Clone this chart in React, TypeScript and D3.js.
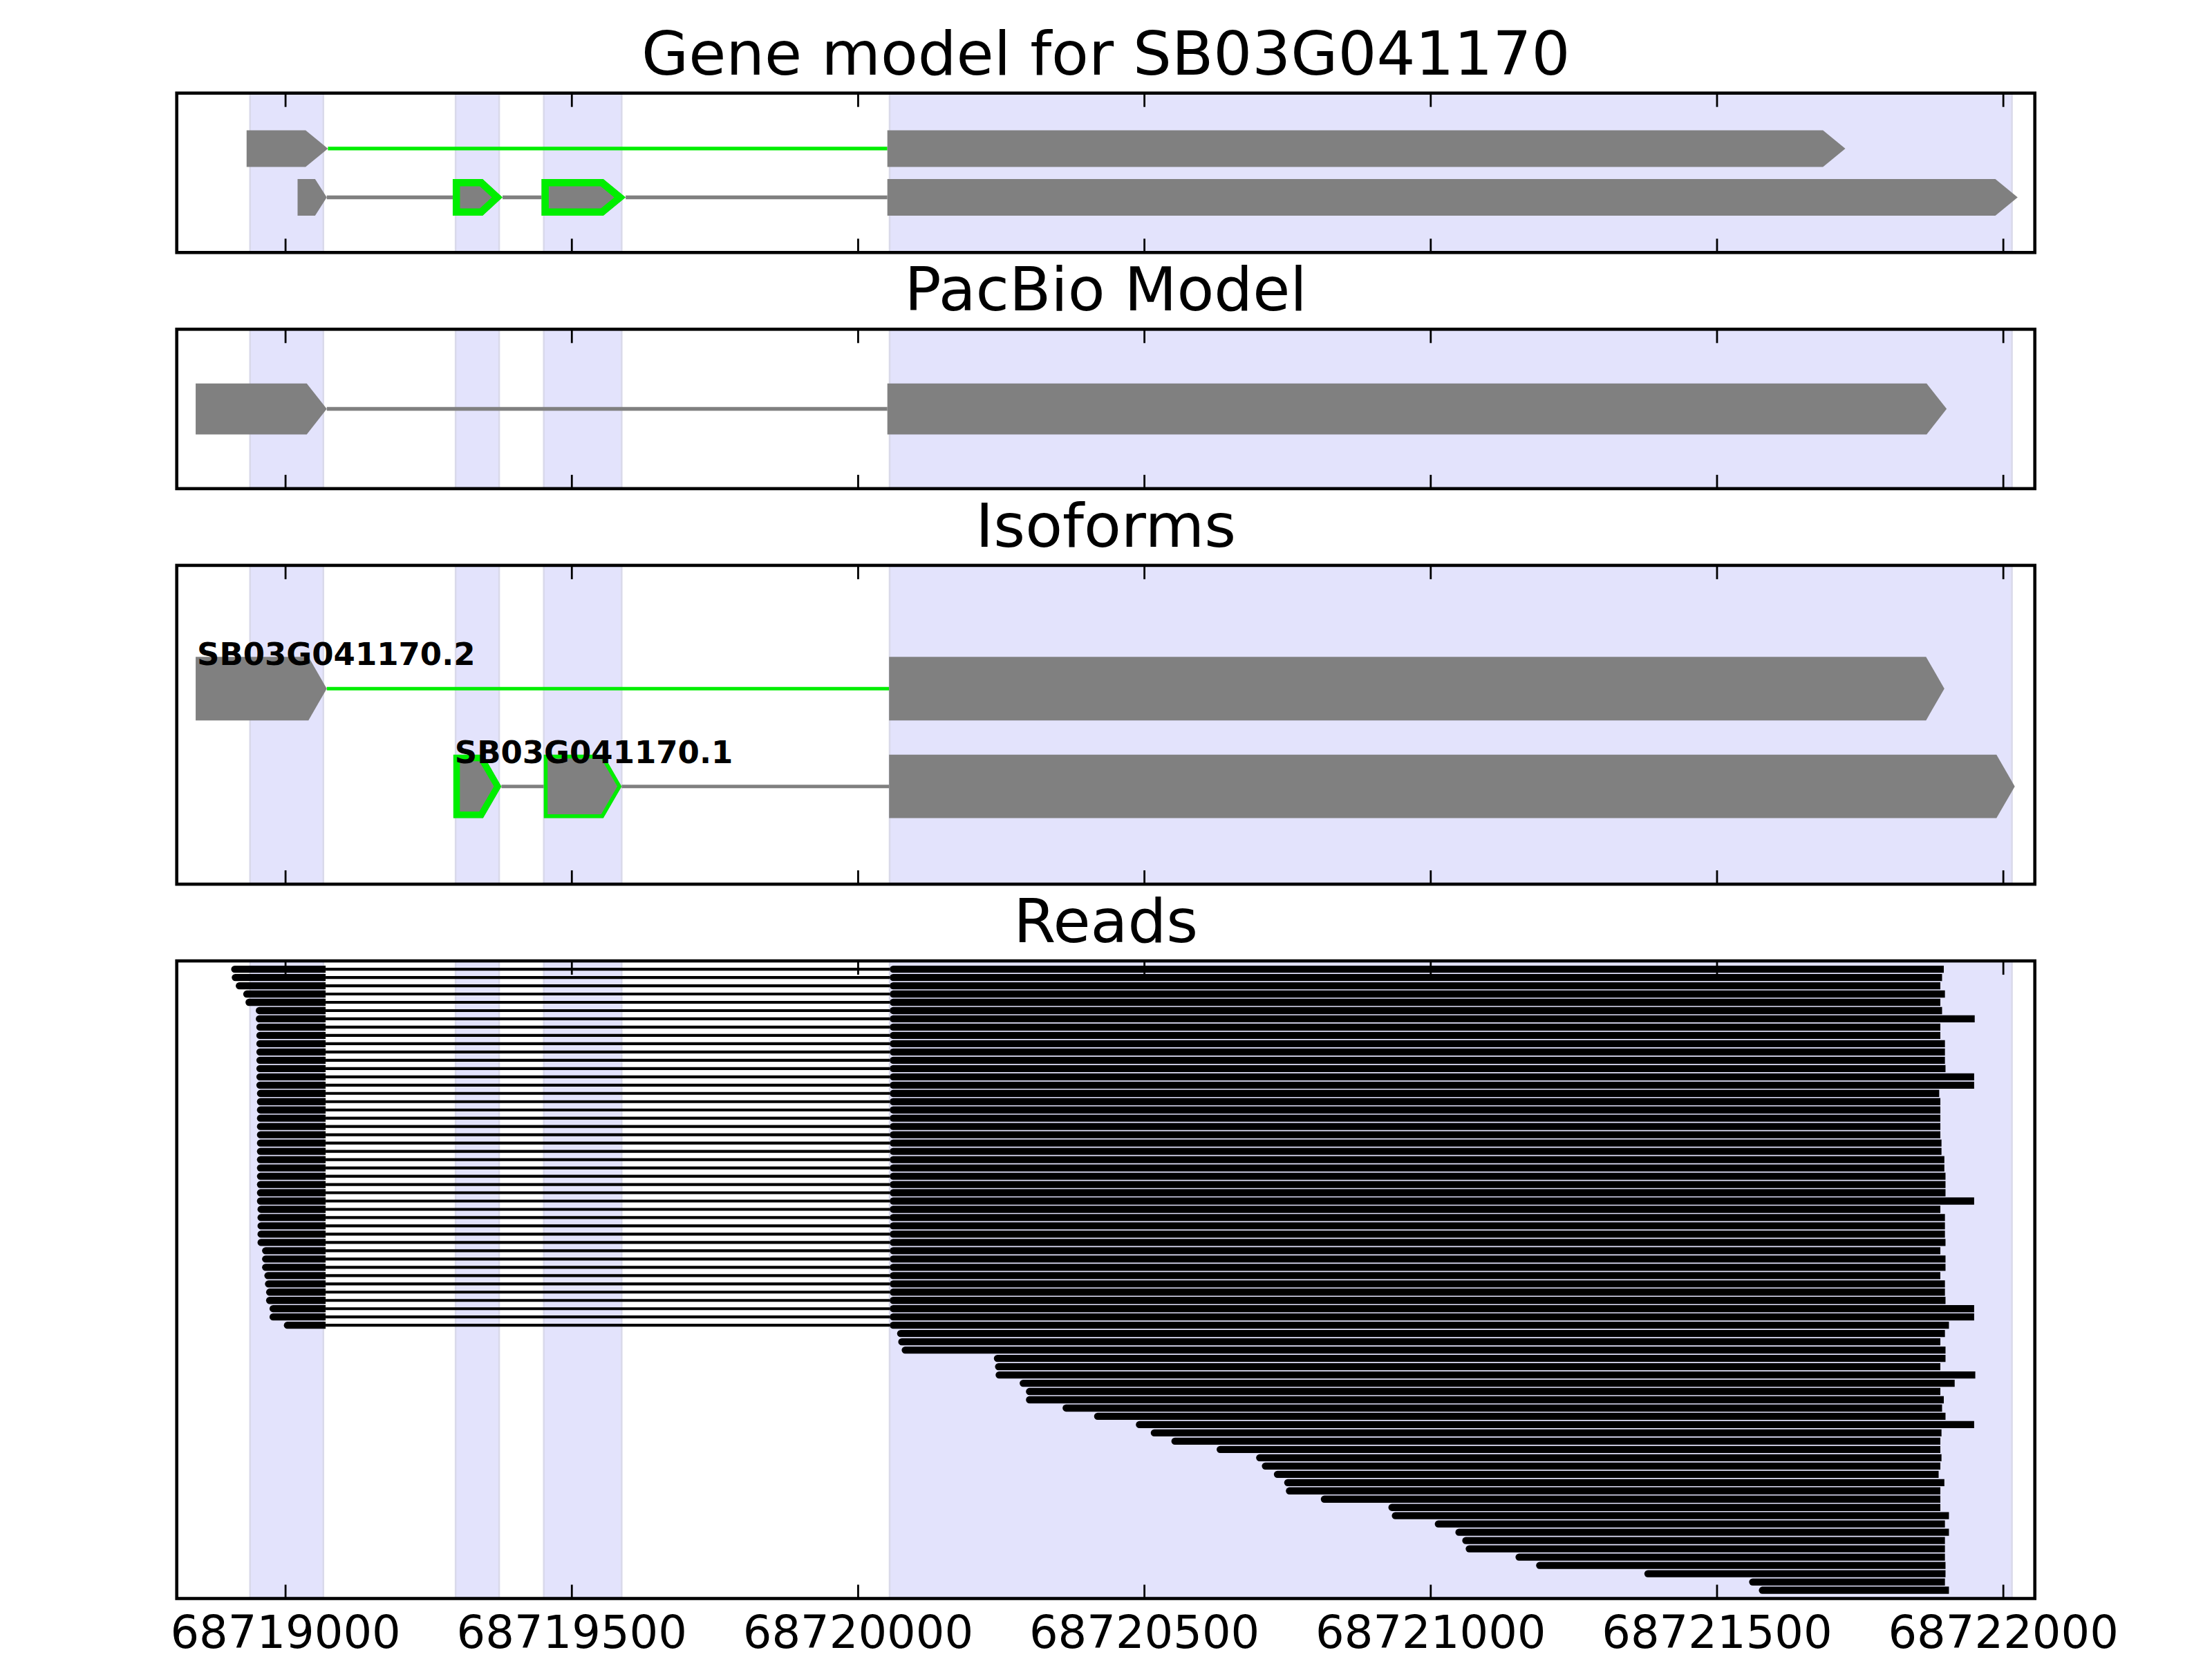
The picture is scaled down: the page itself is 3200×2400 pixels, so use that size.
import React from 'react';
import * as d3 from 'd3';

const W = 3200;
const H = 2400;

// ---------- data ----------
const panelTitles = ['Gene model for SB03G041170', 'PacBio Model', 'Isoforms', 'Reads'];
const xTicks = [68719000, 68719500, 68720000, 68720500, 68721000, 68721500, 68722000];
const xDomain = [68718810, 68722055];

// shaded exon regions
const bandStarts = [68718938, 68719297, 68719451, 68720055];
const bandEnds = [68719066, 68719373, 68719587, 68722015];

// gene model (two transcripts)
const gene2Exons = [[68718932, 68719074], [68720051, 68721724]];
const gene1Exons = [[68719021, 68719072], [68719292, 68719379], [68719447, 68719594], [68720051, 68722025]];
const gene1Outline = [0, 10.5, 10.5, 0];

// PacBio model
const pacbioExons = [[68718843, 68719072], [68720051, 68721901]];

// isoforms
const isoNames = ['SB03G041170.2', 'SB03G041170.1'];
const iso2Exons = [[68718843, 68719072], [68720054, 68721897]];
const iso1Exons = [[68719293, 68719377], [68719451, 68719587], [68720054, 68722020]];
const iso1Outline = [9.5, 5.5, 0];

// reads
const firstExonEnd = 68719070;
const mainExonStart = 68720055;
const readStarts = [
  68718905, 68718906, 68718913, 68718926, 68718930, 68718948, 68718948,
  68718949, 68718949, 68718949, 68718949, 68718949, 68718949, 68718949, 68718949,
  68718950, 68718950, 68718950, 68718950, 68718950, 68718950, 68718950,
  68718950, 68718950, 68718950, 68718950, 68718950, 68718950, 68718950,
  68718951, 68718951, 68718951, 68718951, 68718951,
  68718959, 68718959, 68718959, 68718963, 68718964, 68718966, 68718966,
  68718972, 68718972, 68718997,
  68720068, 68720070, 68720076, 68720237, 68720239, 68720240, 68720282, 68720293,
  68720293, 68720357, 68720412, 68720485, 68720511, 68720547, 68720626, 68720695,
  68720705, 68720726, 68720744, 68720747, 68720808, 68720926, 68720932, 68721007,
  68721043, 68721055, 68721061, 68721148, 68721184, 68721373, 68721556, 68721573,
];
const readEnds = [
  68721896, 68721893, 68721890, 68721898, 68721890, 68721893, 68721950, 68721890,
  68721890, 68721898, 68721898, 68721898, 68721899, 68721949, 68721949, 68721888,
  68721890, 68721890, 68721890, 68721890, 68721890, 68721892, 68721892, 68721897,
  68721897, 68721899, 68721899, 68721899, 68721949, 68721890, 68721898, 68721898,
  68721898, 68721899, 68721890, 68721899, 68721899, 68721890, 68721898, 68721898,
  68721899, 68721949, 68721949, 68721905, 68721898, 68721890, 68721899, 68721899,
  68721890, 68721951, 68721915, 68721890, 68721896, 68721893, 68721899, 68721949,
  68721892, 68721890, 68721890, 68721892, 68721890, 68721887, 68721897, 68721890,
  68721890, 68721890, 68721905, 68721898, 68721905, 68721898, 68721898, 68721898,
  68721899, 68721899, 68721898, 68721905,
];

// ---------- layout ----------
const LEFT = 255.7;
const RIGHT = 2943.7;
const TOP0 = 134.7;
const UNIT = 230.6;
const GAP = 111;
const ratios = [1, 1, 2, 4];
const panels: { top: number; bottom: number }[] = [];
{
  let t = TOP0;
  ratios.forEach((r) => {
    panels.push({ top: t, bottom: t + r * UNIT });
    t += r * UNIT + GAP;
  });
}

const GRAY = '#808080';
const GREEN = '#00ee00';
const LAV = '#e3e3fc';
const FONT = 'DejaVu Sans, Bitstream Vera Sans, sans-serif';

const x = d3.scaleLinear().domain(xDomain).range([LEFT, RIGHT]);

function arrowD(s: number, e: number, yc: number, h: number, headBp: number) {
  const hb = Math.min(headBp, 0.4 * (e - s));
  const x0 = x(s);
  const x1 = x(e);
  const xh = x(e - hb);
  const y0 = yc - h / 2;
  const y1 = yc + h / 2;
  return `M${x0},${y0}L${xh},${y0}L${x1},${yc}L${xh},${y1}L${x0},${y1}Z`;
}

let clipCounter = 0;

function Transcript({
  exons, yc, h, headBp, intronColor, intronW, outlines,
}: {
  exons: number[][]; yc: number; h: number; headBp: number; intronColor: string; intronW: number; outlines?: number[];
}) {
  const items: React.ReactNode[] = [];
  for (let i = 0; i < exons.length - 1; i++) {
    items.push(
      <line key={`in${i}`} x1={x(exons[i][1])} x2={x(exons[i + 1][0])} y1={yc} y2={yc}
        stroke={intronColor} strokeWidth={intronW} />
    );
  }
  exons.forEach(([s, e], i) => {
    const d = arrowD(s, e, yc, h, headBp);
    const t = outlines ? outlines[i] : 0;
    if (t > 0) {
      const id = `clipx${clipCounter++}`;
      items.push(
        <g key={`ex${i}`}>
          <clipPath id={id}><path d={d} /></clipPath>
          <path d={d} fill={GRAY} stroke={GREEN} strokeWidth={2 * t} clipPath={`url(#${id})`} />
        </g>
      );
    } else {
      items.push(<path key={`ex${i}`} d={d} fill={GRAY} />);
    }
  });
  return <g>{items}</g>;
}

function Bands({ top, bottom }: { top: number; bottom: number }) {
  return (
    <g>
      {bandStarts.map((s, i) => (
        <rect key={i} x={x(s)} y={top} width={x(bandEnds[i]) - x(s)} height={bottom - top}
          fill={LAV} stroke="#d9d9ea" strokeWidth={2.5} />
      ))}
    </g>
  );
}

function Frame({ top, bottom, labels }: { top: number; bottom: number; labels?: boolean }) {
  return (
    <g>
      {xTicks.map((t) => (
        <g key={t}>
          <line x1={x(t)} x2={x(t)} y1={top} y2={top + 20} stroke="#000" strokeWidth={2.8} />
          <line x1={x(t)} x2={x(t)} y1={bottom} y2={bottom - 20} stroke="#000" strokeWidth={2.8} />
          {labels && (
            <text x={x(t)} y={bottom + 71} textAnchor="middle" fontSize={65.5} fontFamily={FONT} fill="#000">
              {t}
            </text>
          )}
        </g>
      ))}
      <rect x={LEFT} y={top} width={RIGHT - LEFT} height={bottom - top} fill="none" stroke="#000" strokeWidth={4.6} />
    </g>
  );
}

function Title({ text, top }: { text: string; top: number }) {
  return (
    <text x={(LEFT + RIGHT) / 2} y={top - 27} textAnchor="middle" fontSize={88} fontFamily={FONT} fill="#000">
      {text}
    </text>
  );
}

function readBlock(s: number, e: number, yc: number, h: number) {
  const x0 = x(s);
  const x1 = x(e);
  const r = h / 2;
  const y0 = yc - r;
  const y1 = yc + r;
  return `M${x0 + r},${y0}L${x1},${y0}L${x1},${y1}L${x0 + r},${y1}A${r},${r} 0 0 1 ${x0 + r},${y0}Z`;
}

export default function App() {
  clipCounter = 0;
  const [p1, p2, p3, p4] = panels;
  const yGene = d3.scaleLinear().domain([3.137, -0.13]).range([p1.top, p1.bottom]);
  const yPac = d3.scaleLinear().domain([2, 0]).range([p2.top, p2.bottom]);
  const yIso = d3.scaleLinear().domain([3.26, 0]).range([p3.top, p3.bottom]);
  const yReads = d3.scaleLinear().domain([-1, readStarts.length]).range([p4.top, p4.bottom]);

  const geneH = yGene(0) - yGene(0.75);
  const pacH = yPac(0) - yPac(0.64);
  const isoH = yIso(0) - yIso(0.65);
  const readH = 10.3;

  return (
    <svg width={W} height={H} viewBox={`0 0 ${W} ${H}`} xmlns="http://www.w3.org/2000/svg"
      style={{ position: 'absolute', left: 0, top: 0, display: 'block', background: '#fff' }}>
      <rect x={0} y={0} width={W} height={H} fill="#fff" />

      {/* Panel 1: gene model */}
      <Title text={panelTitles[0]} top={p1.top} />
      <Bands top={p1.top} bottom={p1.bottom} />
      <Transcript exons={gene2Exons} yc={yGene(2)} h={geneH} headBp={39} intronColor={GREEN} intronW={5.3} />
      <Transcript exons={gene1Exons} yc={yGene(1)} h={geneH} headBp={39} intronColor={GRAY} intronW={5.5}
        outlines={gene1Outline} />
      <Frame top={p1.top} bottom={p1.bottom} />

      {/* Panel 2: PacBio model */}
      <Title text={panelTitles[1]} top={p2.top} />
      <Bands top={p2.top} bottom={p2.bottom} />
      <Transcript exons={pacbioExons} yc={yPac(1)} h={pacH} headBp={35} intronColor={GRAY} intronW={5.5} />
      <Frame top={p2.top} bottom={p2.bottom} />

      {/* Panel 3: isoforms */}
      <Title text={panelTitles[2]} top={p3.top} />
      <Bands top={p3.top} bottom={p3.bottom} />
      <Transcript exons={iso2Exons} yc={yIso(2)} h={isoH} headBp={32} intronColor={GREEN} intronW={5} />
      <Transcript exons={iso1Exons} yc={yIso(1)} h={isoH} headBp={32} intronColor={GRAY} intronW={5}
        outlines={iso1Outline} />
      <text x={x(iso2Exons[0][0]) + 2} y={yIso(2.24)} fontSize={45} fontWeight="bold" fontFamily={FONT} fill="#000">
        {isoNames[0]}
      </text>
      <text x={x(iso1Exons[0][0]) + 2} y={yIso(1.24)} fontSize={45} fontWeight="bold" fontFamily={FONT} fill="#000">
        {isoNames[1]}
      </text>
      <Frame top={p3.top} bottom={p3.bottom} />

      {/* Panel 4: reads */}
      <Title text={panelTitles[3]} top={p4.top} />
      <Bands top={p4.top} bottom={p4.bottom} />
      <g>
        {readStarts.map((s, i) => {
          const yc = yReads(i);
          const e = readEnds[i];
          if (s < firstExonEnd) {
            return (
              <g key={i}>
                <line x1={x(firstExonEnd)} x2={x(mainExonStart)} y1={yc} y2={yc} stroke="#000" strokeWidth={4.2} />
                <path d={readBlock(s, firstExonEnd, yc, readH)} fill="#000" />
                <path d={readBlock(mainExonStart, e, yc, readH)} fill="#000" />
              </g>
            );
          }
          return <path key={i} d={readBlock(s, e, yc, readH)} fill="#000" />;
        })}
      </g>
      <Frame top={p4.top} bottom={p4.bottom} labels />
    </svg>
  );
}
